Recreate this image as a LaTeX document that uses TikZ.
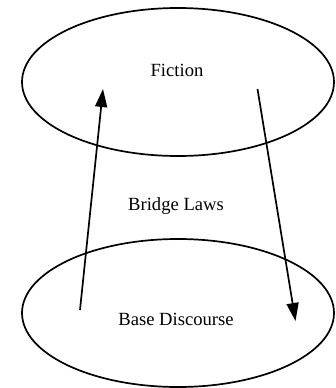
\documentclass[tikz,border=0pt]{standalone}
\usepackage{fontspec}
\setmainfont{Liberation Serif}
\usetikzlibrary{shapes.geometric,arrows.meta}

\begin{document}
\begin{tikzpicture}[x=1pt, y=-1pt, >={Triangle[length=18pt,width=12pt]},
		world/.style={ellipse, draw, line width=1.7pt, minimum width=312pt, minimum height=148pt, inner sep=0pt},
		lbl/.style={anchor=base, inner sep=0pt, font=\fontsize{18.6}{22}\selectfont},
		link/.style={->, line width=1.7pt}]
		\useasboundingbox (0,0) rectangle (336,388);
		% the two ellipses
		\node[world] (fic) at (178,82) {};
		\node[world] (base) at (178,313) {};
		% texts
		\node[lbl] (fictxt) at (177,76) {Fiction};
		\node[lbl] (bridge) at (176,210) {Bridge Laws};
		\node[lbl] (basetxt) at (176,325) {Base Discourse};
		% arrow ends
		\coordinate (up0) at (80,310);
		\coordinate (up1) at (103,89);
		\coordinate (dn0) at (257.5,89);
		\coordinate (dn1) at (295.5,321);
		% up and down arrows
		\draw[link] (up0) -- (up1);
		\draw[link] (dn0) -- (dn1);
	\end{tikzpicture}
\end{document}
